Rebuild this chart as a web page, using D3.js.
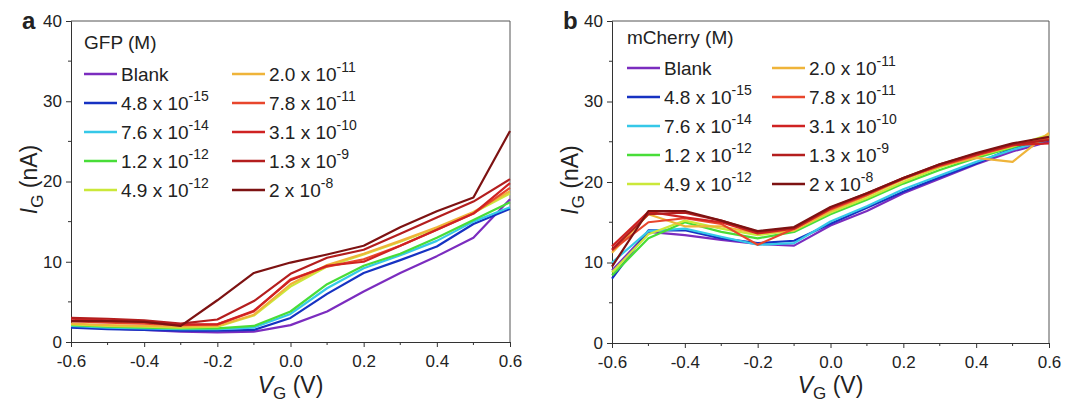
<!DOCTYPE html>
<html>
<head>
<meta charset="utf-8">
<script src="https://cdn.jsdelivr.net/npm/d3@7"></script>
<style>
  html, body { margin: 0; padding: 0; background: #fff; }
  svg text { font-family: Arial, "Liberation Sans", sans-serif; fill: #222; }
</style>
</head>
<body>
<svg id="chart" width="1083" height="404"></svg>
<script>
// Gate voltage sweep (V)
const vg = [-0.6, -0.5, -0.4, -0.3, -0.2, -0.1, 0.0, 0.1, 0.2, 0.3, 0.4, 0.5, 0.6];

// Concentration labels: [mantissa, exponent]; "Blank" has no exponent
const concLabels = [
  ["Blank", null], ["4.8 x 10", "-15"], ["7.6 x 10", "-14"], ["1.2 x 10", "-12"], ["4.9 x 10", "-12"],
  ["2.0 x 10", "-11"], ["7.8 x 10", "-11"], ["3.1 x 10", "-10"], ["1.3 x 10", "-9"], ["2 x 10", "-8"]
];
const seriesColors = ["#7b2cbf", "#1632c2", "#35c8e8", "#48dd38", "#cbe83a",
                      "#efb43a", "#e8462c", "#cf2222", "#b41e1e", "#7d1212"];

// Gate current I_G (nA), GFP
const gfpBlank = [1.9, 1.7, 1.5, 1.3, 1.2, 1.3, 2.1, 3.8, 6.3, 8.6, 10.7, 13.0, 17.8];
const gfp48e15 = [1.8, 1.6, 1.5, 1.4, 1.4, 1.5, 3.0, 6.0, 8.6, 10.2, 11.9, 14.7, 16.6];
const gfp76e14 = [2.0, 1.8, 1.7, 1.6, 1.6, 1.8, 3.5, 6.7, 9.2, 10.8, 12.6, 15.0, 16.8];
const gfp12e12 = [2.1, 1.9, 1.8, 1.7, 1.7, 2.0, 3.8, 7.2, 9.5, 11.0, 13.0, 15.2, 17.4];
const gfp49e12 = [2.2, 2.0, 1.9, 1.8, 1.9, 3.3, 6.9, 9.4, 10.9, 12.5, 14.2, 16.1, 18.5];
const gfp20e11 = [2.3, 2.1, 2.0, 1.9, 2.0, 3.4, 7.2, 9.6, 11.0, 12.6, 14.3, 16.2, 18.8];
const gfp78e11 = [2.6, 2.4, 2.3, 2.1, 2.2, 3.8, 7.8, 9.4, 10.3, 12.0, 14.0, 16.0, 19.2];
const gfp31e10 = [2.9, 2.7, 2.5, 2.2, 2.2, 3.9, 7.7, 9.5, 10.0, 12.0, 14.0, 16.0, 19.8];
const gfp13e9  = [3.0, 2.9, 2.7, 2.3, 2.8, 5.1, 8.5, 10.5, 11.5, 13.5, 15.5, 17.5, 20.3];
const gfp2e8   = [2.6, 2.6, 2.5, 2.0, 5.2, 8.6, 9.9, 10.9, 12.0, 14.3, 16.3, 18.0, 26.3];

// Gate current I_G (nA), mCherry
const mchBlank = [9.0, 13.8, 13.4, 12.8, 12.3, 12.1, 14.6, 16.4, 18.6, 20.4, 22.2, 23.8, 25.0];
const mch48e15 = [8.0, 14.0, 14.0, 13.0, 12.4, 12.7, 14.8, 16.8, 18.8, 20.6, 22.3, 24.2, 25.2];
const mch76e14 = [10.0, 13.9, 14.2, 13.2, 12.2, 12.4, 15.1, 17.0, 19.1, 20.8, 22.5, 24.0, 25.3];
const mch12e12 = [8.4, 13.0, 15.0, 13.8, 13.0, 13.8, 16.0, 17.8, 19.8, 21.5, 23.0, 24.3, 25.5];
const mch49e12 = [8.8, 13.5, 15.2, 14.2, 13.4, 14.0, 16.2, 18.0, 20.0, 21.8, 23.2, 24.4, 25.9];
const mch20e11 = [11.2, 16.0, 14.5, 14.5, 13.6, 14.0, 16.4, 18.3, 20.3, 22.0, 23.0, 22.5, 26.1];
const mch78e11 = [11.5, 15.0, 15.5, 14.8, 12.2, 14.2, 16.6, 18.4, 20.5, 22.0, 23.3, 24.5, 25.4];
const mch31e10 = [12.0, 16.3, 15.6, 15.0, 13.6, 14.2, 16.7, 18.5, 20.4, 22.1, 23.4, 24.6, 24.8];
const mch13e9  = [11.6, 16.0, 16.2, 15.2, 13.8, 14.3, 16.8, 18.6, 20.5, 22.2, 23.5, 24.7, 25.2];
const mch2e8   = [9.5, 16.4, 16.4, 15.2, 13.9, 14.4, 16.9, 18.6, 20.5, 22.2, 23.6, 24.8, 25.6];

const xTicks = [-0.6, -0.4, -0.2, 0.0, 0.2, 0.4, 0.6];
const yTicks = [0, 10, 20, 30, 40];

const panels = [
  { letter: "a", title: "GFP (M)", left: 71, right: 510, top: 21, bottom: 342,
    series: [gfpBlank, gfp48e15, gfp76e14, gfp12e12, gfp49e12, gfp20e11, gfp78e11, gfp31e10, gfp13e9, gfp2e8],
    legend: { x: 84, titleY: 49, rowY: 74, colGap: 148 } },
  { letter: "b", title: "mCherry (M)", left: 612, right: 1049, top: 21, bottom: 343,
    series: [mchBlank, mch48e15, mch76e14, mch12e12, mch49e12, mch20e11, mch78e11, mch31e10, mch13e9, mch2e8],
    legend: { x: 627, titleY: 44, rowY: 68, colGap: 145 } }
];

const svg = d3.select("#chart");

panels.forEach(p => {
  const x = d3.scaleLinear().domain([-0.6, 0.6]).range([p.left, p.right]);
  const y = d3.scaleLinear().domain([0, 40]).range([p.bottom, p.top]);
  const g = svg.append("g");

  // frame (top and right edges)
  g.append("path")
    .attr("d", `M${p.left},${p.top}H${p.right}V${p.bottom}`)
    .attr("fill", "none").attr("stroke", "#555").attr("stroke-width", 1);

  // minor ticks
  const xMinor = [-0.5, -0.3, -0.1, 0.1, 0.3, 0.5];
  const yMinor = [5, 15, 25, 35];

  const xAxis = g.append("g").attr("transform", `translate(0,${p.bottom})`)
    .call(d3.axisBottom(x).tickValues(xTicks).tickFormat(d => d.toFixed(1)).tickSize(5).tickPadding(8));
  xAxis.selectAll(".minor").data(xMinor).enter().append("line")
    .attr("class", "minor").attr("x1", d => x(d)).attr("x2", d => x(d))
    .attr("y1", 0).attr("y2", 3).attr("stroke", "#333");

  const yAxis = g.append("g").attr("transform", `translate(${p.left},0)`)
    .call(d3.axisLeft(y).tickValues(yTicks).tickFormat(d3.format("d")).tickSize(5).tickPadding(4));
  yAxis.selectAll(".minor").data(yMinor).enter().append("line")
    .attr("class", "minor").attr("y1", d => y(d)).attr("y2", d => y(d))
    .attr("x1", 0).attr("x2", -3).attr("stroke", "#333");

  [xAxis, yAxis].forEach(a => {
    a.select(".domain").attr("stroke", "#333");
    a.selectAll(".tick line").attr("stroke", "#333");
    a.selectAll("text").attr("font-size", 17).attr("font-family", "Arial, 'Liberation Sans', sans-serif").attr("fill", "#222");
  });

  // data lines
  const line = d3.line().x((d, i) => x(vg[i])).y(d => y(d));
  g.selectAll(".curve").data(p.series).enter().append("path")
    .attr("class", "curve")
    .attr("d", line)
    .attr("fill", "none")
    .attr("stroke", (d, i) => seriesColors[i])
    .attr("stroke-width", 2.2)
    .attr("stroke-linejoin", "round");

  // panel letter
  g.append("text").attr("x", p.left - 49).attr("y", p.top + 8)
    .attr("font-size", 24).attr("font-weight", "bold").attr("fill", "#111").text(p.letter);

  // axis titles
  const xt = g.append("text")
    .attr("x", (p.left + p.right) / 2).attr("y", 393)
    .attr("text-anchor", "middle").attr("font-size", 23);
  xt.append("tspan").attr("font-style", "italic").text("V");
  xt.append("tspan").attr("font-size", 17).attr("dy", 6).text("G");
  xt.append("tspan").attr("dy", -6).text(" (V)");

  const yt = g.append("text")
    .attr("transform", `translate(${p.left - 34},${(p.top + p.bottom) / 2 - 2}) rotate(-90)`)
    .attr("text-anchor", "middle").attr("font-size", 23);
  yt.append("tspan").attr("font-style", "italic").text("I");
  yt.append("tspan").attr("font-size", 17).attr("dy", 6).text("G");
  yt.append("tspan").attr("dy", -6).text(" (nA)");

  // legend
  const L = p.legend;
  g.append("text").attr("x", L.x).attr("y", L.titleY).attr("font-size", 19).text(p.title);
  const colX = [L.x, L.x + L.colGap];
  concLabels.forEach((lab, i) => {
    const col = Math.floor(i / 5), row = i % 5;
    const cy = L.rowY + row * 29;
    const sx = colX[col];
    g.append("line").attr("x1", sx).attr("x2", sx + 33).attr("y1", cy).attr("y2", cy)
      .attr("stroke", seriesColors[i]).attr("stroke-width", 2.5);
    const t = g.append("text").attr("x", sx + 37).attr("y", cy + 7).attr("font-size", 19);
    t.append("tspan").text(lab[0]);
    if (lab[1]) t.append("tspan").attr("font-size", 14).attr("dy", -9).text(lab[1]);
  });
});
</script>
</body>
</html>
